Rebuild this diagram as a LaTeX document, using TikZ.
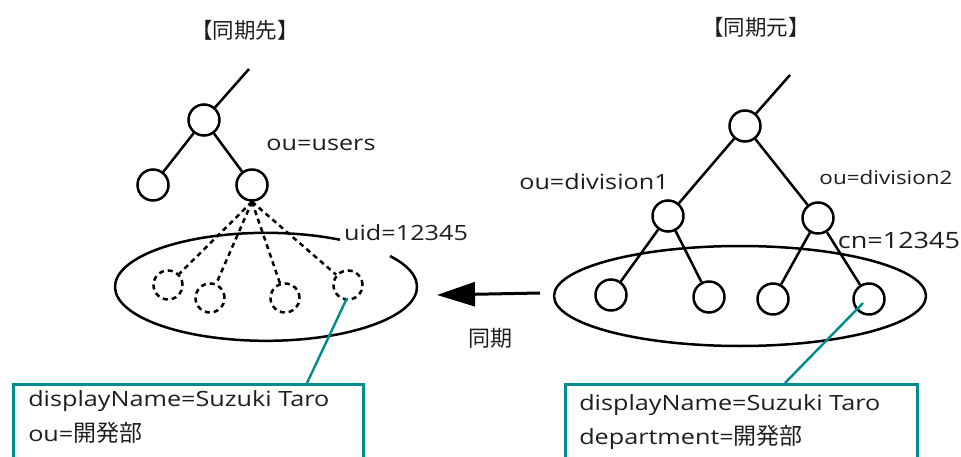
\documentclass[tikz,border=0pt]{standalone}
\usepackage{fontspec}
\setmainfont[FakeStretch=1.2]{Open Sans}
\newfontfamily\cjk{Noto Sans CJK JP}
\usetikzlibrary{arrows.meta}
\definecolor{tealc}{RGB}{0,140,140}
\definecolor{txt}{RGB}{30,30,30}
\begin{document}
\begin{tikzpicture}[x=1pt,y=-1pt,line width=2.5pt,
  nd/.style={circle,draw,minimum size=31pt,inner sep=0pt},
  dnd/.style={circle,draw,dash pattern=on 5pt off 4pt,minimum size=29pt,inner sep=0pt},
  dl/.style={dash pattern=on 5pt off 4pt},
  lbl/.style={inner sep=0pt,text=txt,font=\fontsize{21}{25}\selectfont},
  ttl/.style={inner sep=0pt,text=txt,font=\cjk\fontsize{21.5}{25}\selectfont},
  tl/.style={draw=tealc,line width=2.4pt},
  box/.style={draw=tealc,line width=3pt,anchor=north west,inner sep=0pt}]
\clip (0,0) rectangle (961,457);
\fill[white] (0,0) rectangle (961,457);

% titles
\node[ttl] (t1) at (245,30) {【同期先】};
\node[ttl] (t2) at (756,27) {【同期元】};

% ---- left tree
\coordinate (ltop) at (249,69);
\node[nd] (lr) at (204,120) {};
\node[nd] (lc1) at (153,185) {};
\node[nd] (lc2) at (252,185) {};
\draw (ltop) -- (lr);
\draw (lr) -- (lc1);
\draw (lr) -- (lc2);
\node[lbl] (lou) at (321,145) {ou=users};

% left ellipse with gap
\draw (390,256) arc[start angle=-34.8,end angle=299.3,x radius=151,y radius=54];
\node[lbl] (luid) at (406,233) {uid=12345};

\node[dnd] (d1) at (168,285) {};
\node[dnd] (d2) at (210,298) {};
\node[dnd] (d3) at (285,298) {};
\node[dnd] (d4) at (348,285) {};
\draw[dl] (lc2.south) -- (d1);
\draw[dl] (lc2.south) -- (d2);
\draw[dl] (lc2.south) -- (d3);
\draw[dl] (lc2.south) -- (d4);

% ---- right tree
\coordinate (rtop) at (790,75);
\node[nd] (rr) at (745,126) {};
\node[nd] (rc1) at (668,216) {};
\node[nd] (rc2) at (818,218) {};
\node[nd] (rl1) at (611,295) {};
\node[nd] (rl2) at (709,297) {};
\node[nd] (rl3) at (773,299) {};
\node[nd] (rl4) at (869,299) {};
\draw (rtop) -- (rr);
\draw (rr) -- (rc1);
\draw (rr) -- (rc2);
\draw (rc1) -- (rl1);
\draw (rc1) -- (rl2);
\draw (rc2) -- (rl3);
\draw (rc2) -- (rl4);
\draw (740,296) ellipse[x radius=186,y radius=50];
\node[lbl] (rd1) at (594,182) {ou=division1};
\node[lbl,font=\fontsize{18.7}{22}\selectfont] (rd2) at (886,177) {ou=division2};
\node[lbl,font=\fontsize{22.5}{26}\selectfont] (rcn) at (899,240) {cn=12345};

% ---- arrow
\coordinate (as) at (540,293);
\coordinate (ae) at (437,295);
\draw[line width=3pt,-{Triangle[length=38pt,width=24pt]}] (as) -- (ae);
\node[ttl,font=\cjk\fontsize{22}{26}\selectfont] (sync) at (490,338) {同期};

% ---- boxes
\node[box,minimum width=350pt,minimum height=100pt] (lbox) at (12,383) {};
\node[box,minimum width=352pt,minimum height=100pt] (rbox) at (564,383) {};
\node[lbl,anchor=west] (lb1) at (27,401) {displayName=Suzuki Taro};
\node[lbl,anchor=west] (lb2) at (27,433) {ou=\cjk\fontsize{23}{27}\selectfont 開発部};
\node[lbl,anchor=west] (rb1) at (578,405) {displayName=Suzuki Taro};
\node[lbl,anchor=west] (rb2) at (578,437) {department=\cjk\fontsize{23}{27}\selectfont 開発部};

\coordinate (lbt) at (307,383);
\coordinate (rbt) at (785,383);
\coordinate (d4b) at (347,298);
\coordinate (rl4p) at (863,303);
\draw[tl] (d4b) -- (lbt);
\draw[tl] (rl4p) -- (rbt);
\end{tikzpicture}
\end{document}
